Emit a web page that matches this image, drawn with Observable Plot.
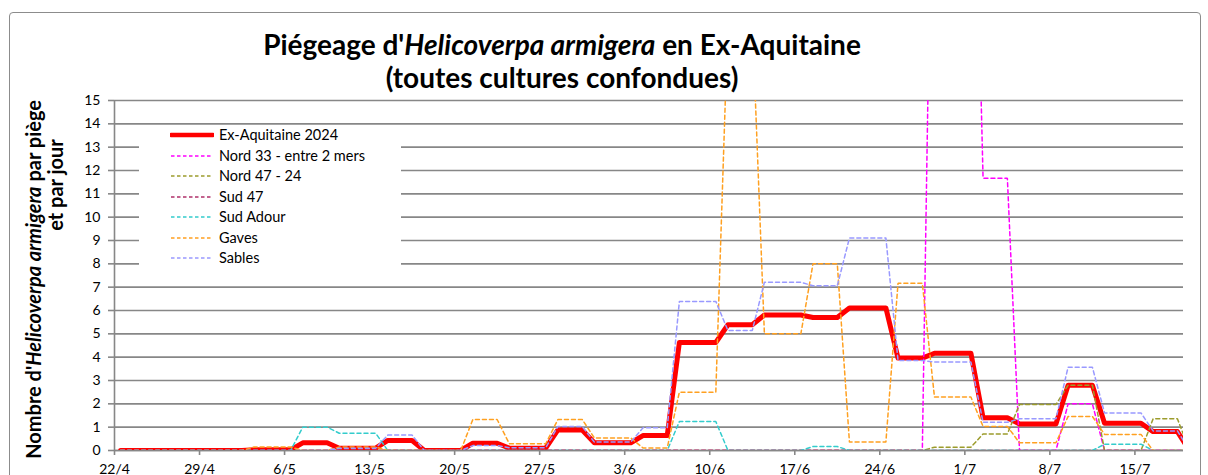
<!DOCTYPE html>
<html><head><meta charset="utf-8">
<script src="https://cdn.jsdelivr.net/npm/d3@7"></script>
<script src="https://cdn.jsdelivr.net/npm/@observablehq/plot@0.6"></script>
<style>
html,body{margin:0;padding:0;background:#fff;overflow:hidden;width:1208px;height:475px;}
#wrap{position:relative;width:1208px;height:475px;font-family:Lato,"Open Sans",sans-serif;color:#000;}
#frame{position:absolute;left:9px;top:12px;width:1192px;height:520px;border:1px solid #8c8c8c;border-radius:4px;box-sizing:border-box;}
#chart{position:absolute;left:0;top:0;}
#title{position:absolute;left:0;top:28px;width:1124px;text-align:center;font-weight:bold;font-size:28px;line-height:33px;}
#ytitle{position:absolute;left:0;top:0;}
#legend{position:absolute;left:139px;top:126px;width:262px;height:150px;background:#fff;font-size:14.5px;}
.row{position:absolute;left:0;height:20px;line-height:20px;white-space:nowrap;}
.row svg{position:absolute;left:31px;top:0;}
.row span{position:absolute;left:80px;top:0;}
</style></head>
<body><div id="wrap">
<div id="frame"></div>
<div id="chart"></div>
<div id="title">Piégeage d'<i>Helicoverpa armigera</i> en Ex-Aquitaine<br>(toutes cultures confondues)</div>
<svg id="ytitle" width="80" height="475" font-family="Lato, 'Open Sans', sans-serif" font-weight="bold" font-size="20">
<text transform="translate(41,100) rotate(-90)" text-anchor="end">Nombre d'<tspan font-style="italic">Helicoverpa armigera</tspan> par piège</text>
<text transform="translate(63,185) rotate(-90)" text-anchor="middle">et par jour</text>
</svg>
<div id="legend"></div>
</div>
<script>
// ---- data ----
const periodStarts = ["22/4","26/4","30/4","3/5","7/5","10/5","14/5","17/5","21/5","24/5","28/5","31/5","4/6","7/6","11/6","14/6","18/6","21/6","25/6","28/6","2/7","5/7","9/7","12/7","16/7","19/7"];
const xTickLabels = ["22/4","29/4","6/5","13/5","20/5","27/5","3/6","10/6","17/6","24/6","1/7","8/7","15/7"];
const yTicks = [0,1,2,3,4,5,6,7,8,9,10,11,12,13,14,15];
const seriesNames = ["Ex-Aquitaine 2024","Nord 33 - entre 2 mers","Nord 47 - 24","Sud 47","Sud Adour","Gaves","Sables"];
const exAquitaine = [0,0,0,0.03,0.33,0.1,0.43,0,0.31,0.1,0.88,0.33,0.64,4.63,5.39,5.81,5.7,6.11,3.96,4.17,1.4,1.14,2.8,1.17,0.81,0];
const nord33      = [0,0,0,0,0,0,0,0,0,0,0,0,0,0,0,0,0,0,0,33,11.67,0,2.0,0,0,0];
const nord4724    = [0,0,0,0,0,0,0,0,0,0,0,0,0,0,0,0,0,0,0,0.14,0.71,1.97,2.8,0,1.36,0];
const sud47       = [0,0,0,0,0,0,0,0,0,0,0,0,0,0,0,0,0,0,0,0,0,0,0,0,0,0];
const sudAdour    = [0,0,0,0,1.0,0.74,0,0,0,0,0,0,0,1.24,0,0,0.17,0,0,0,0,0,0,0.27,0,0];
const gaves       = [0,0,0,0.15,0,0.15,0,0,1.33,0.29,1.33,0.54,0.11,2.5,18.5,5.0,8.0,0.36,7.17,2.29,1.03,0.33,1.46,0.69,0,0];
const sables      = [0,0,0,0,0,0.1,0.66,0,0.21,0.12,1.03,0.36,0.97,6.39,5.14,7.21,7.06,9.11,3.86,3.79,1.21,1.36,3.57,1.61,0.84,0];
const seriesValues = [exAquitaine,nord33,nord4724,sud47,sudAdour,gaves,sables];
const seriesColors = ["#ff0000","#ff00ff","#9c9c2c","#b0306a","#33cccc","#ffa020","#9999ff"];

// ---- helpers ----
const parse = s => { const [d,m] = s.split("/").map(Number); return new Date(Date.UTC(2024, m-1, d)); };
const noon = t => d3.utcHour.offset(t, 12);
function build(name, values){
  const pts = [];
  periodStarts.forEach((s,i) => {
    const t0 = parse(s);
    pts.push({series:name, date:noon(t0), value:values[i]});
    if (i < periodStarts.length-1){
      const tEnd = d3.utcDay.offset(parse(periodStarts[i+1]), -1);
      if (+tEnd > +t0) pts.push({series:name, date:noon(tEnd), value:values[i]});
    }
  });
  return pts;
}
const grid = "#878787";
const xTicks = xTickLabels.map(parse);
const lineMarks = seriesNames.map((n,i) => Plot.line(build(n, seriesValues[i]), {
  x:"date", y:"value", stroke:seriesColors[i],
  strokeWidth: i===0 ? 5 : 1.5,
  strokeDasharray: i===0 ? null : "4,3",
  strokeLinejoin: i===0 ? "round" : "miter",
  clip: true
}));

const chart = Plot.plot({
  width:1208, height:500,
  marginLeft:114, marginRight:25, marginTop:100, marginBottom:50,
  style:{fontFamily:"Lato, 'Open Sans', sans-serif", fontSize:"14px", color:"#000", background:"transparent"},
  x:{type:"utc", domain:[parse("22/4"), parse("19/7")]},
  y:{domain:[0,15]},
  marks:[
    Plot.gridY(yTicks, {stroke:grid, strokeOpacity:1, strokeWidth:1.6}),
    Plot.axisY(yTicks, {tickSize:6, tickPadding:8, stroke:grid, strokeWidth:1.6, label:null, tickFormat:d=>d, fill:"#000"}),
    Plot.ruleX([parse("22/4")], {stroke:grid, strokeWidth:1.6}),
    Plot.ruleY([0], {stroke:grid, strokeWidth:1.6}),
    Plot.axisX(xTicks, {tickSize:5, tickPadding:9, stroke:grid, strokeWidth:1.6, label:null, tickFormat:d=>`${d.getUTCDate()}/${d.getUTCMonth()+1}`, fill:"#000"}),
    ...lineMarks
  ]
});
document.getElementById("chart").appendChild(chart);

// legend
const leg = document.getElementById("legend");
seriesNames.forEach((n,i) => {
  const row = document.createElement("div");
  row.className = "row";
  row.style.top = (-1 + 20.5*i) + "px";
  row.innerHTML = `<svg width="44" height="20"><line x1="1" x2="43" y1="10" y2="10" stroke="${seriesColors[i]}" stroke-width="${i===0?4.5:1.4}" ${i===0?'stroke-linecap="round"':'stroke-dasharray="3.5,2.5"'}/></svg><span>${n}</span>`;
  leg.appendChild(row);
});
</script>
</body></html>
